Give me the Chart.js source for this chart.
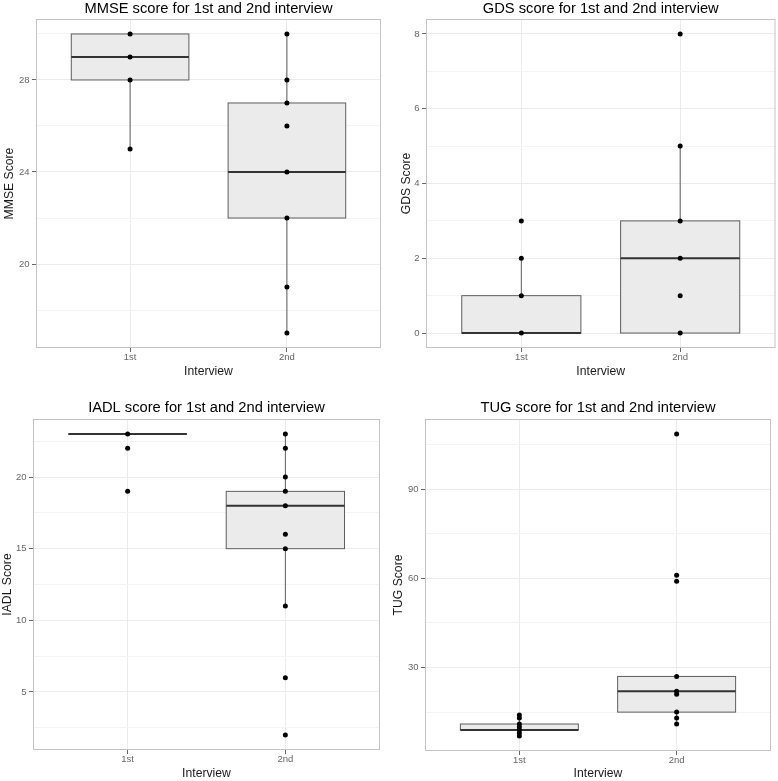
<!DOCTYPE html>
<html>
<head>
<meta charset="utf-8">
<script src="https://cdn.jsdelivr.net/npm/chart.js@4.4.1/dist/chart.umd.min.js"></script>
<style>
    html, body { margin: 0; padding: 0; background: #fff; }
    body { width: 778px; height: 781px; position: relative; overflow: hidden; }
    .cell { position: absolute; }
    #c1 { left: 0; top: 0; width: 389px; height: 390px; }
    #c2 { left: 389px; top: 0; width: 389px; height: 390px; }
    #c3 { left: 0; top: 390px; width: 389px; height: 391px; }
    #c4 { left: 389px; top: 390px; width: 389px; height: 391px; }
</style>
</head>
<body>
<div class="cell" id="c1"><canvas id="mmseChart"></canvas></div>
<div class="cell" id="c2"><canvas id="gdsChart"></canvas></div>
<div class="cell" id="c3"><canvas id="iadlChart"></canvas></div>
<div class="cell" id="c4"><canvas id="tugChart"></canvas></div>
<script>
// categories
const interviews = ['1st', '2nd'];

// individual scores (points)
const mmse1st = [30, 29, 28, 25];
const mmse2nd = [30, 28, 27, 26, 24, 22, 19, 17];
const gds1st = [0, 1, 2, 3];
const gds2nd = [0, 1, 2, 3, 5, 8];
const iadl1st = [23, 22, 19];
const iadl2nd = [23, 22, 20, 19, 18, 16, 15, 11, 6, 2];
const tug1st = [14, 13, 11, 10, 9, 8, 7];
const tug2nd = [108.5, 61, 59, 27, 22, 21, 15, 13, 11];

// box stats: [lower whisker, q1, median, q3, upper whisker]
const mmseBox1st = [25, 28, 29, 30, 30];
const mmseBox2nd = [17, 22, 24, 27, 30];
const gdsBox1st = [0, 0, 0, 1, 2];
const gdsBox2nd = [0, 0, 2, 3, 5];
const iadlBox1st = [23, 23, 23, 23, 23];
const iadlBox2nd = [11, 15, 18, 19, 23];
const tugBox1st = [7, 9, 9, 11, 14];
const tugBox2nd = [11, 15, 22, 27, 27];

// y tick labels (major) and minor grid lines
const mmseTicks = [20, 24, 28];
const mmseMinor = [18, 22, 26, 30];
const gdsTicks = [0, 2, 4, 6, 8];
const gdsMinor = [1, 3, 5, 7];
const iadlTicks = [5, 10, 15, 20];
const iadlMinor = [2.5, 7.5, 12.5, 17.5, 22.5];
const tugTicks = [30, 60, 90];
const tugMinor = [15, 45, 75, 105];

const FONT = "'Liberation Sans', Arial, Helvetica, sans-serif";

// draws boxes + whiskers under the points
const boxplotPlugin = {
    id: 'boxplot',
    beforeDatasetsDraw(chart, args, opts) {
        const ctx = chart.ctx;
        const x = chart.scales.x;
        const y = chart.scales.y;
        ctx.save();
        opts.boxes.forEach(function(b, i) {
            const cx = x.getPixelForValue(i + 1);
            const x0 = x.getPixelForValue(i + 1 - 0.375);
            const x1 = x.getPixelForValue(i + 1 + 0.375);
            ctx.strokeStyle = '#5e5e5e';
            ctx.lineWidth = 1;
            // whiskers
            ctx.beginPath();
            ctx.moveTo(cx, y.getPixelForValue(b[0]));
            ctx.lineTo(cx, y.getPixelForValue(b[1]));
            ctx.moveTo(cx, y.getPixelForValue(b[3]));
            ctx.lineTo(cx, y.getPixelForValue(b[4]));
            ctx.stroke();
            // box
            const top = y.getPixelForValue(b[3]);
            const bot = y.getPixelForValue(b[1]);
            ctx.fillStyle = '#ebebeb';
            ctx.fillRect(x0, top, x1 - x0, bot - top);
            ctx.strokeRect(x0, top, x1 - x0, bot - top);
            // median
            ctx.strokeStyle = '#333';
            ctx.lineWidth = 2;
            ctx.beginPath();
            const my = y.getPixelForValue(b[2]);
            ctx.moveTo(x0, my);
            ctx.lineTo(x1, my);
            ctx.stroke();
        });
        ctx.restore();
    }
};

// light grey frame round the panel
const panelBorder = {
    id: 'panelBorder',
    afterDraw(chart) {
        const a = chart.chartArea;
        const ctx = chart.ctx;
        ctx.save();
        ctx.strokeStyle = '#c4c4c4';
        ctx.lineWidth = 1;
        ctx.strokeRect(a.left + 0.5, a.top + 0.5, a.right - a.left - 1, a.bottom - a.top - 1);
        ctx.restore();
    }
};

function makePanel(id, p) {
    const all = p.pts1.concat(p.pts2, p.box1, p.box2);
    const lo = Math.min.apply(null, all);
    const hi = Math.max.apply(null, all);
    const pad = (hi - lo) * 0.05;
    const major = p.ticks;
    const canvas = document.getElementById(id);
    const W = canvas.parentNode.clientWidth;
    const H = canvas.parentNode.clientHeight;

    const points = [];
    p.pts1.forEach(function(v) { points.push({ x: 1, y: v }); });
    p.pts2.forEach(function(v) { points.push({ x: 2, y: v }); });

    return new Chart(canvas.getContext('2d'), {
        type: 'scatter',
        data: {
            datasets: [{
                data: points,
                backgroundColor: '#000',
                borderWidth: 0,
                pointRadius: 2.5,
                pointHoverRadius: 2.5
            }]
        },
        options: {
            responsive: true,
            maintainAspectRatio: false,
            animation: false,
            layout: { padding: { left: 0, right: W - p.area.right, top: 0, bottom: 0 } },
            scales: {
                x: {
                    type: 'linear',
                    min: 0.4,
                    max: 2.6,
                    afterBuildTicks: function(s) { s.ticks = [{ value: 1 }, { value: 2 }]; },
                    afterFit: function(s) { s.height = H - p.area.bottom; },
                    ticks: {
                        callback: function(v) { return interviews[v - 1]; },
                        font: { family: FONT, size: 9.5, lineHeight: 1 },
                        color: '#666',
                        padding: 1,
                        maxRotation: 0
                    },
                    grid: { color: '#ebebeb', tickColor: '#666', tickLength: 4 },
                    border: { display: false },
                    title: {
                        display: true,
                        text: 'Interview',
                        font: { family: FONT, size: 12.2, lineHeight: 1 },
                        color: '#1a1a1a',
                        padding: { top: 0, bottom: p.xTitlePad }
                    }
                },
                y: {
                    type: 'linear',
                    min: lo - pad,
                    max: hi + pad,
                    afterBuildTicks: function(s) {
                        s.ticks = major.concat(p.minor).sort(function(a, b) { return a - b; })
                            .map(function(v) { return { value: v }; });
                    },
                    afterFit: function(s) { s.width = p.area.left; },
                    ticks: {
                        autoSkip: false,
                        callback: function(v) { return major.indexOf(v) >= 0 ? String(v) : ''; },
                        font: { family: FONT, size: 9.5, lineHeight: 1 },
                        color: '#666',
                        padding: 2.5
                    },
                    grid: {
                        color: function(c) { return major.indexOf(c.tick.value) >= 0 ? '#ebebeb' : '#f3f3f3'; },
                        tickColor: function(c) { return major.indexOf(c.tick.value) >= 0 ? '#666' : 'rgba(0,0,0,0)'; },
                        tickLength: 4
                    },
                    border: { display: false },
                    title: {
                        display: true,
                        text: p.yTitle,
                        font: { family: FONT, size: 12.2, lineHeight: 1 },
                        color: '#1a1a1a',
                        padding: { top: p.yTitlePad, bottom: 0 }
                    }
                }
            },
            plugins: {
                legend: { display: false },
                tooltip: { enabled: false },
                title: {
                    display: true,
                    fullSize: false,
                    text: p.title,
                    font: { family: FONT, size: 14.7, weight: 'normal', lineHeight: 1 },
                    color: '#000',
                    padding: { top: p.titleTop, bottom: p.area.top - p.titleTop - 14.7 }
                },
                boxplot: { boxes: [p.box1, p.box2] }
            }
        },
        plugins: [boxplotPlugin, panelBorder]
    });
}

document.addEventListener('DOMContentLoaded', function() {
    makePanel('mmseChart', {
        title: 'MMSE score for 1st and 2nd interview', yTitle: 'MMSE Score',
        pts1: mmse1st, pts2: mmse2nd, box1: mmseBox1st, box2: mmseBox2nd,
        ticks: mmseTicks, minor: mmseMinor,
        area: { left: 36, right: 381, top: 19, bottom: 348 },
        titleTop: 2, xTitlePad: 12.7, yTitlePad: 3.4
    });
    makePanel('gdsChart', {
        title: 'GDS score for 1st and 2nd interview', yTitle: 'GDS Score',
        pts1: gds1st, pts2: gds2nd, box1: gdsBox1st, box2: gdsBox2nd,
        ticks: gdsTicks, minor: gdsMinor,
        area: { left: 37, right: 387, top: 19, bottom: 348 },
        titleTop: 2, xTitlePad: 12.7, yTitlePad: 11.2
    });
    makePanel('iadlChart', {
        title: 'IADL score for 1st and 2nd interview', yTitle: 'IADL Score',
        pts1: iadl1st, pts2: iadl2nd, box1: iadlBox1st, box2: iadlBox2nd,
        ticks: iadlTicks, minor: iadlMinor,
        area: { left: 33, right: 380, top: 29, bottom: 360 },
        titleTop: 10.8, xTitlePad: 1.4, yTitlePad: 1.2
    });
    makePanel('tugChart', {
        title: 'TUG score for 1st and 2nd interview', yTitle: 'TUG Score',
        pts1: tug1st, pts2: tug2nd, box1: tugBox1st, box2: tugBox2nd,
        ticks: tugTicks, minor: tugMinor,
        area: { left: 36, right: 382, top: 29, bottom: 361 },
        titleTop: 10.8, xTitlePad: 1.4, yTitlePad: 3.4
    });
});
</script>
</body>
</html>
